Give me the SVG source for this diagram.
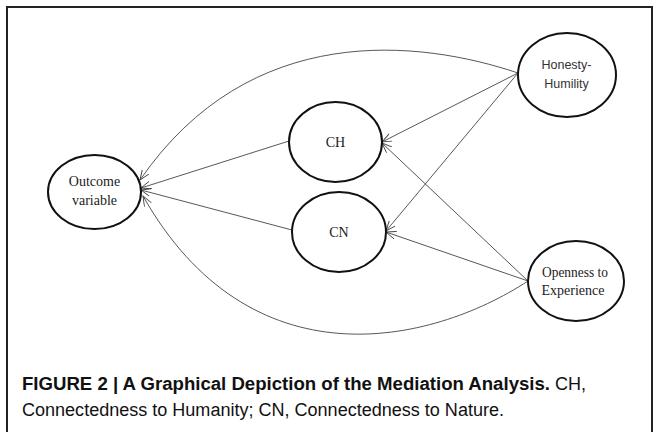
<svg xmlns="http://www.w3.org/2000/svg" width="659" height="432" viewBox="0 0 659 432">
<defs>
<marker id="arr" markerUnits="userSpaceOnUse" markerWidth="12" markerHeight="10" refX="10" refY="4" orient="auto">
<path d="M0,0 L10,4 L0,8" fill="none" stroke="#444" stroke-width="0.9"/>
</marker>
<style>
.node ellipse{fill:#fff;stroke:#111;stroke-width:2}
.serif{font-family:"Liberation Serif","Times New Roman",serif;font-size:14px;fill:#222;text-anchor:middle}
.sans{font-family:"Liberation Sans",Arial,sans-serif;font-size:12.5px;fill:#333;text-anchor:middle}
.edge{fill:none;stroke:#444;stroke-width:0.9;marker-end:url(#arr)}
.cap{font-family:"Liberation Sans",Arial,sans-serif;font-size:18px;fill:#111}
</style>
</defs>
<rect width="659" height="432" fill="#fff"/>
<path d="M7,432 V7 H652 V432" fill="none" stroke="#222" stroke-width="2"/>
<g id="connectors">
<path class="edge" d="M518,73 C420,40 250,20 140,180"/>
<path class="edge" d="M289,141 L141,188"/>
<path class="edge" d="M292,230 L141,190"/>
<path class="edge" d="M528,281 C430,345 250,385 143,196"/>
<path class="edge" d="M518,73 L382,142"/>
<path class="edge" d="M518,73 L386,231"/>
<path class="edge" d="M528,281 L382,143"/>
<path class="edge" d="M528,281 L386,232"/>
</g>
<g id="outcome" class="node">
<ellipse cx="94.5" cy="192" rx="46.5" ry="37"/>
<text class="serif" x="94.5" y="186">Outcome</text>
<text class="serif" x="94.5" y="205">variable</text>
</g>
<g id="ch" class="node">
<ellipse cx="335.5" cy="142" rx="46.5" ry="40"/>
<text class="serif" x="335.5" y="147">CH</text>
</g>
<g id="cn" class="node">
<ellipse cx="339" cy="232" rx="47" ry="40"/>
<text class="serif" x="339" y="237">CN</text>
</g>
<g id="honesty" class="node">
<ellipse cx="567" cy="75" rx="49" ry="42"/>
<text class="sans" x="566.5" y="69">Honesty-</text>
<text class="sans" x="566.5" y="88">Humility</text>
</g>
<g id="openness" class="node">
<ellipse cx="576" cy="281" rx="48" ry="40"/>
<text class="serif" x="575" y="277" textLength="66" lengthAdjust="spacingAndGlyphs">Openness to</text>
<text class="serif" x="573" y="295">Experience</text>
</g>
<g id="caption">
<text class="cap" x="22" y="390"><tspan font-weight="bold" textLength="528" lengthAdjust="spacingAndGlyphs">FIGURE 2 | A Graphical Depiction of the Mediation Analysis.</tspan><tspan> CH,</tspan></text>
<text class="cap" x="22" y="416" textLength="482" lengthAdjust="spacingAndGlyphs">Connectedness to Humanity; CN, Connectedness to Nature.</text>
</g>
</svg>
